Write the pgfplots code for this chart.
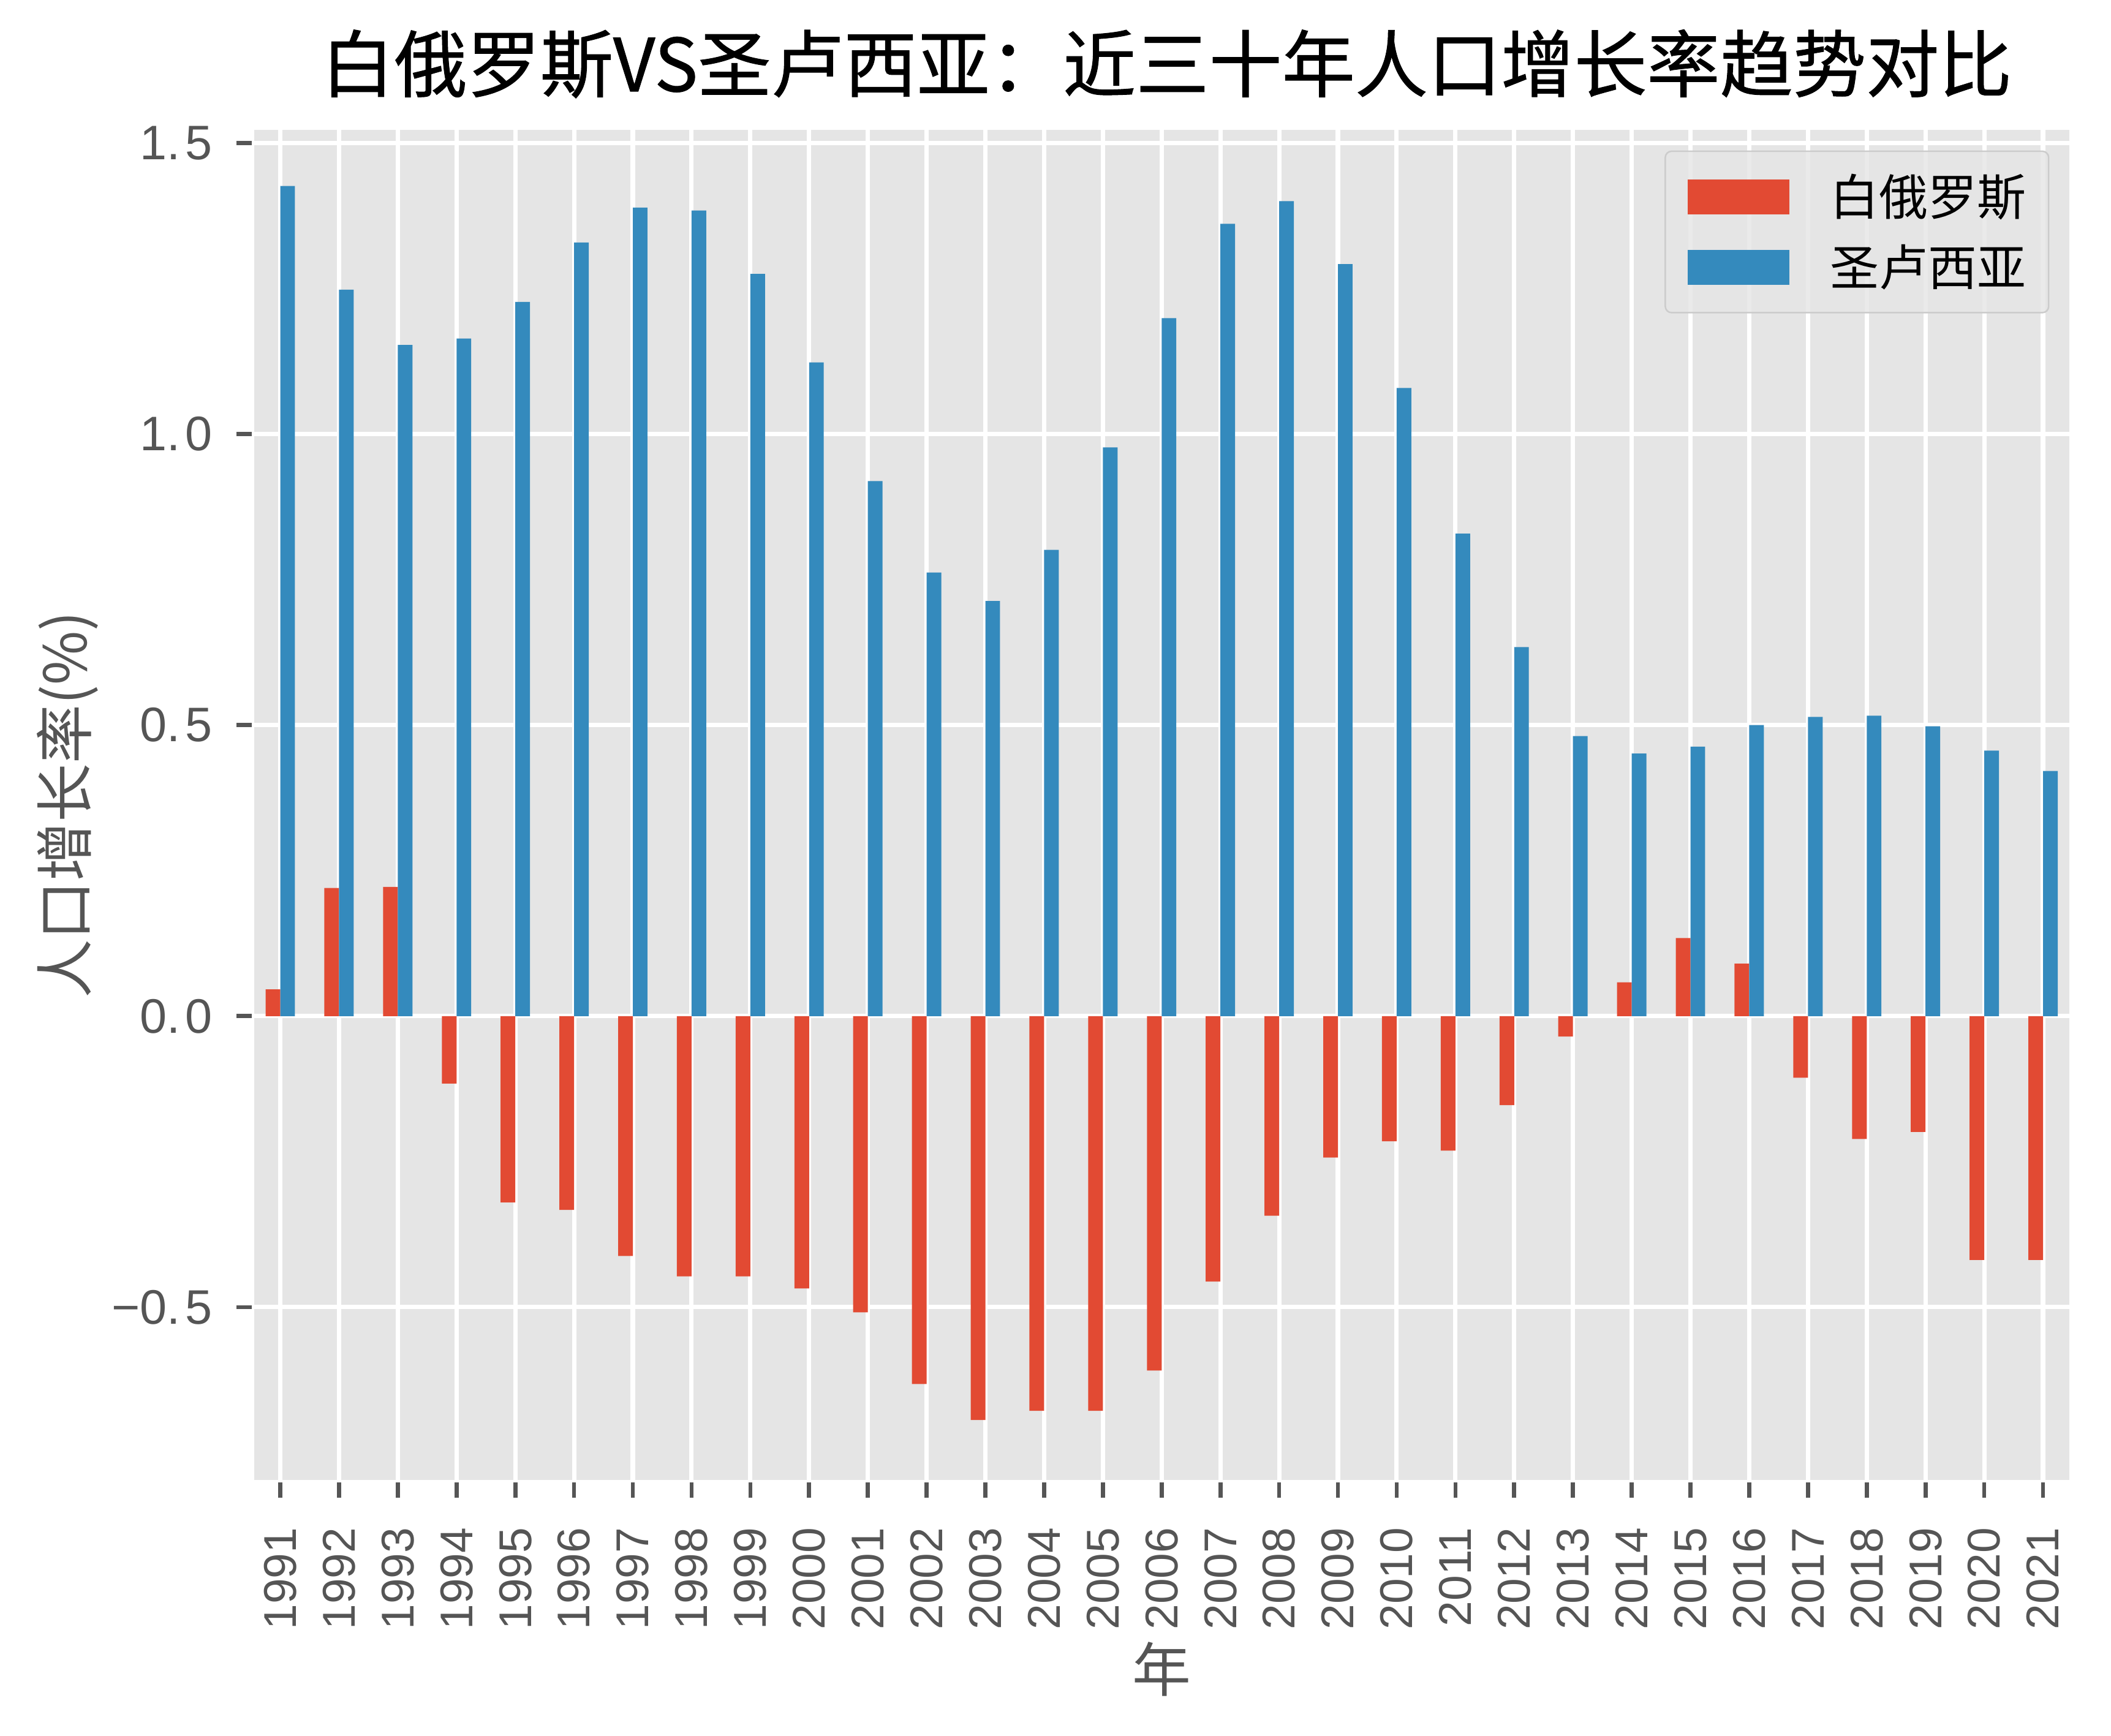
\documentclass[border=0pt]{standalone}
\usepackage{fontspec}
\usepackage{pgfplots}
\usepackage{pgfplotstable}
\pgfplotsset{compat=1.18}
\setmainfont{Liberation Sans}
\newfontfamily\cjk{Noto Sans CJK SC}
\newfontfamily\cjkt[BoldFont={Noto Sans CJK SC}, BoldFeatures={FakeBold=0.8}]{Noto Sans CJK SC}
\definecolor{bel}{HTML}{E24A33}
\definecolor{stl}{HTML}{348ABD}
\definecolor{bgc}{HTML}{E5E5E5}
\definecolor{tickc}{HTML}{555555}
\definecolor{legborder}{HTML}{CCCCCC}

\pgfplotstableread{
idx bel stl
0 0.046 1.426
1 0.220 1.248
2 0.222 1.153
3 -0.116 1.164
4 -0.320 1.227
5 -0.333 1.329
6 -0.412 1.389
7 -0.447 1.384
8 -0.447 1.275
9 -0.468 1.123
10 -0.509 0.919
11 -0.632 0.762
12 -0.694 0.713
13 -0.678 0.801
14 -0.678 0.977
15 -0.609 1.199
16 -0.456 1.361
17 -0.343 1.400
18 -0.243 1.292
19 -0.215 1.079
20 -0.231 0.829
21 -0.153 0.634
22 -0.035 0.481
23 0.058 0.451
24 0.134 0.463
25 0.090 0.500
26 -0.106 0.514
27 -0.211 0.516
28 -0.199 0.498
29 -0.419 0.456
30 -0.419 0.421
}\datatable

\begin{document}
\begin{tikzpicture}
\useasboundingbox (0,0) rectangle (827.04pt,679.92pt);
\begin{axis}[
  at={(99.1pt,99.6pt)}, anchor=south west,
  scale only axis, width=712pt, height=530pt,
  xmin=-0.465, xmax=30.465, ymin=-0.799, ymax=1.525,
  axis background/.style={fill=bgc},
  axis line style={white, line width=1pt},
  grid=major, grid style={white, line width=1.7pt},
  tick align=outside, xtick pos=bottom, ytick pos=left,
  major tick length=6.5pt,
  tick style={tickc, line width=1.6pt},
  xtick={0,...,30},
  xticklabels={1991,1992,1993,1994,1995,1996,1997,1998,1999,2000,2001,2002,2003,2004,2005,2006,2007,2008,2009,2010,2011,2012,2013,2014,2015,2016,2017,2018,2019,2020,2021},
  ytick={-0.5,0,0.5,1,1.5},
  yticklabels={−0.\hspace{0.1em}5,0.\hspace{0.1em}0,0.\hspace{0.1em}5,1.\hspace{0.1em}0,1.\hspace{0.1em}5},
  xticklabel style={rotate=90, anchor=east, inner sep=0pt, font=\fontsize{18}{22}\selectfont, text=tickc},
  yticklabel style={anchor=east, inner sep=0pt, font=\fontsize{19}{23}\selectfont, text=tickc},
  xticklabel shift=11.5pt, yticklabel shift=9.3pt,
  xlabel={\cjk 年},
  xlabel style={at={(axis description cs:0.5,-0.139)}, anchor=center, font=\fontsize{23}{28}\selectfont, text=tickc},
  ylabel={\cjk 人口增长率(\%)},
  ylabel style={at={(axis description cs:-0.102,0.5)}, anchor=center, font=\fontsize{23}{28}\selectfont, text=tickc},
  title={\cjkt\bfseries 白俄罗斯VS圣卢西亚：近三十年人口增长率趋势对比},
  title style={at={(axis description cs:0.5027,1.0364)}, anchor=center, font=\fontsize{28.6}{34}\selectfont, text=black},
  legend style={at={(axis description cs:0.9885,0.9837)}, anchor=north east,
    fill=bgc, fill opacity=0.8, text opacity=1, draw=legborder, line width=0.6pt,
    rounded corners=2.5pt, inner xsep=8.8pt, inner ysep=9pt,
    row sep=9.9pt, column sep=16pt,
    font=\cjk\fontsize{19.2}{23}\selectfont, nodes={inner sep=0pt}},
  legend cell align=left,
]
\addplot[ybar, bar width=0.25, bar shift=-0.125, fill=bel, draw=none,
  legend image code/.code={\fill[bel, fill opacity=1, draw=none, sharp corners] (0pt,-6.85pt) rectangle (39.8pt,6.85pt);}]
  table[x=idx, y=bel]{\datatable};
\addlegendentry{白俄罗斯}
\addplot[ybar, bar width=0.25, bar shift=0.125, fill=stl, draw=none,
  legend image code/.code={\fill[stl, fill opacity=1, draw=none, sharp corners] (0pt,-6.85pt) rectangle (39.8pt,6.85pt);}]
  table[x=idx, y=stl]{\datatable};
\addlegendentry{圣卢西亚}
\end{axis}
\end{tikzpicture}
\end{document}
